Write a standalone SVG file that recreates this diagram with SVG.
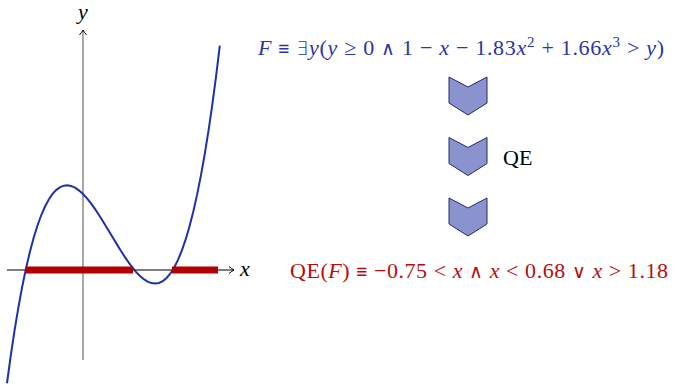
<svg xmlns="http://www.w3.org/2000/svg" width="676" height="386" viewBox="0 0 676 386">
<style>
.m{font-family:"Liberation Serif","Times New Roman",serif;font-size:22px}
.i{font-style:italic}
.o{font-family:"DejaVu Sans",sans-serif;font-weight:200;font-size:19px}
.chev{fill:#8b93cf;stroke:#25296a;stroke-width:1}
.ax{fill:none;stroke-width:1.2}
</style>
<defs>
<marker id="ah" markerWidth="10" markerHeight="10" refX="7" refY="5" orient="auto" markerUnits="userSpaceOnUse">
<path d="M2,1.5 Q5,4 7,5 Q5,6 2,8.5" fill="none" stroke="#000" stroke-width="1"/>
</marker>
</defs>
<rect width="676" height="386" fill="#fff"/>
<g id="plot">
<line class="ax" x1="83" y1="360" x2="83" y2="30" stroke="#707070" marker-end="url(#ah)"/>
<line class="ax" x1="7" y1="270" x2="234" y2="270" stroke="#000" marker-end="url(#ah)"/>
<text class="m i" x="83" y="19" text-anchor="middle">y</text>
<text class="m i" x="240" y="276">x</text>
<polyline fill="none" stroke="#2030a8" stroke-width="2" points="7,383.24 10.8,355.48 14.6,330.22 18.4,307.36 22.2,286.8 26,268.46 29.8,252.22 33.6,238.01 37.4,225.72 41.2,215.26 45,206.54 48.8,199.46 52.6,193.92 56.4,189.85 60.2,187.12 64,185.66 67.8,185.37 71.6,186.16 75.4,187.92 79.2,190.56 83,194 86.8,198.13 90.6,202.86 94.4,208.1 98.2,213.75 102,219.73 105.8,225.91 109.6,232.23 113.4,238.58 117.2,244.87 121,251 124.8,256.88 128.6,262.42 132.4,267.51 136.2,272.07 140,276.01 143.8,279.22 147.6,281.61 151.4,283.09 155.2,283.56 159,282.92 162.8,281.09 166.6,277.96 170.4,273.46 174.2,267.47 178,259.91 181.8,250.67 185.6,239.68 189.4,226.82 193.2,212 197,195.14 200.8,176.14 204.6,154.89 208.4,131.32 212.2,105.32 216,76.79 219.8,45.66"/>
<line x1="26" y1="270" x2="133" y2="270" stroke="#b00000" stroke-width="7"/>
<line x1="172" y1="270" x2="218" y2="270" stroke="#b00000" stroke-width="7"/>
</g>
<g id="formula">
<text class="m" x="258" y="55" fill="#2a35a8" textLength="406" lengthAdjust="spacing"><tspan class="i">F</tspan> <tspan class="o">≡</tspan> <tspan class="o">∃</tspan><tspan class="i">y</tspan>(<tspan class="i">y</tspan> ≥ 0 <tspan class="o">∧</tspan> 1 − <tspan class="i">x</tspan> − 1.83<tspan class="i">x</tspan><tspan font-size="15" dy="-8">2</tspan><tspan dy="8"> + 1.66</tspan><tspan class="i">x</tspan><tspan font-size="15" dy="-8">3</tspan><tspan dy="8"> &gt; </tspan><tspan class="i">y</tspan>)</text>
</g>
<g id="chevron1"><path class="chev" d="M449,77 L468,87 L487,77 L487,103 L468,115 L449,103 Z"/></g>
<g id="chevron2"><path class="chev" d="M449,137.5 L468,147.5 L487,137.5 L487,163.5 L468,175.5 L449,163.5 Z"/></g>
<g id="qe-label"><text class="m" x="503" y="165" fill="#000">QE</text></g>
<g id="chevron3"><path class="chev" d="M449,198 L468,208 L487,198 L487,224 L468,236 L449,224 Z"/></g>
<g id="result">
<text class="m" x="290" y="278" fill="#b80c0c" textLength="378" lengthAdjust="spacing">QE(<tspan class="i">F</tspan>) <tspan class="o">≡</tspan> −0.75 &lt; <tspan class="i">x</tspan> <tspan class="o">∧</tspan> <tspan class="i">x</tspan> &lt; 0.68 <tspan class="o">∨</tspan> <tspan class="i">x</tspan> &gt; 1.18</text>
</g>
</svg>
